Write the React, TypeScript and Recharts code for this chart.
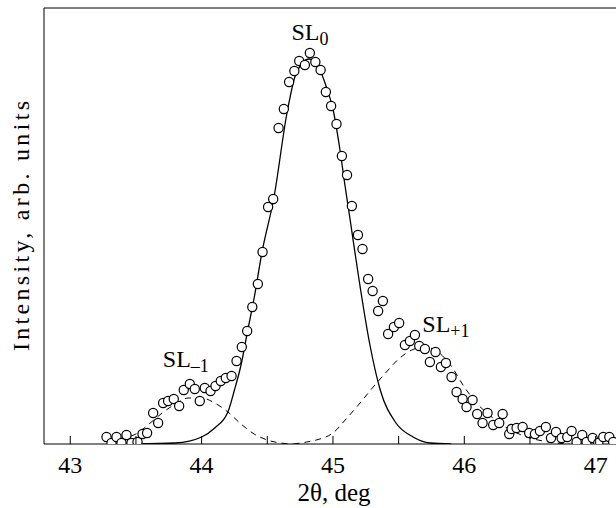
import React from 'react';
import {
  ComposedChart,
  Line,
  Scatter,
  XAxis,
  YAxis,
  ReferenceLine,
  ReferenceDot,
} from 'recharts';

// measured points (2θ in deg, intensity in arb. units)
const measTheta = [
  43.276, 43.314, 43.352, 43.39, 43.428, 43.466, 43.512, 43.55, 43.585, 43.631,
  43.669, 43.707, 43.745, 43.788, 43.829, 43.864, 43.91, 43.948, 43.986, 44.024,
  44.068, 44.106, 44.146, 44.184, 44.228, 44.266, 44.306, 44.347, 44.386, 44.428,
  44.464, 44.506, 44.545, 44.586, 44.626, 44.666, 44.706, 44.743, 44.786, 44.824,
  44.866, 44.906, 44.946, 44.986, 45.027, 45.068, 45.107, 45.144, 45.19, 45.225,
  45.268, 45.302, 45.344, 45.38, 45.42, 45.464, 45.504, 45.548, 45.586, 45.624,
  45.657, 45.7, 45.738, 45.781, 45.822, 45.86, 45.903, 45.941, 45.987, 46.017,
  46.063, 46.098, 46.139, 46.177, 46.22, 46.266, 46.292, 46.342, 46.36, 46.398,
  46.444, 46.494, 46.538, 46.576, 46.621, 46.66, 46.698, 46.741, 46.784, 46.817,
  46.855, 46.898, 46.931, 46.977, 47.02, 47.058, 47.104, 47.134,
];
const measInt = [
  7, 1, 7, 1, 9, 1, 2, 10, 11, 31,
  21, 41, 43, 45, 38, 54, 60, 55, 43, 56,
  53, 58, 63, 66, 68, 83, 97, 113, 137, 160,
  192, 237, 245, 316, 335, 362, 373, 383, 379, 391,
  382, 374, 352, 338, 320, 288, 269, 238, 209, 195,
  165, 153, 133, 143, 110, 117, 121, 99, 103, 109,
  98, 95, 82, 92, 77, 81, 67, 52, 45, 37,
  44, 30, 21, 31, 19, 21, 30, 10, 15, 16,
  17, 11, 10, 13, 17, 6, 12, 6, 7, 13,
  2, 9, 2, 6, 1, 7, 7, 2,
];

// SL0 fit (solid)
const mainTheta = [
  43.5, 43.8, 44.0, 44.1, 44.2, 44.25, 44.3, 44.35, 44.4, 44.46, 44.55, 44.65,
  44.71, 44.76, 44.82, 44.89, 44.95, 45.0, 45.05, 45.09, 45.13, 45.2, 45.28,
  45.36, 45.48, 45.61, 45.74, 45.9,
];
const mainInt = [
  0, 1, 7, 16, 32, 54, 79, 113, 146, 192, 246, 331,
  367, 380, 385, 377, 357, 335, 297, 260, 225, 163, 100,
  54, 21, 7, 1, 0,
];

// SL-1 satellite (dashed)
const lowTheta = [43.3, 43.5, 43.6, 43.7, 43.8, 43.9, 44.0, 44.1, 44.2, 44.3, 44.4, 44.5, 44.6, 44.7];
const lowInt = [3, 10, 20, 31, 40, 46, 46, 41, 32, 20, 10, 4, 1, 0];

// SL+1 satellite (dashed)
const highTheta = [
  44.7, 44.8, 44.9, 45.0, 45.1, 45.2, 45.3, 45.4, 45.5, 45.6, 45.7, 45.8,
  45.9, 46.0, 46.1, 46.2, 46.3, 46.4, 46.5, 46.6, 46.7, 46.8,
];
const highInt = [0, 2, 5, 11, 25, 40, 56, 71, 85, 94, 97, 92, 78, 57, 40, 28, 18, 11, 6, 3, 1, 0];

const xTicks = [43, 43.5, 44, 44.5, 45, 45.5, 46, 46.5, 47];

const zip = (xs: number[], ys: number[]) => xs.map((x, i) => ({ x, y: ys[i] }));

const FONT = '"Liberation Serif", "DejaVu Serif", serif';

const Tick = (props: any) => {
  const { x, y, payload } = props;
  const v = payload.value;
  return (
    <g>
      <line x1={x} x2={x} y1={y} y2={y - 8} stroke="#000" strokeWidth={1} />
      {Number.isInteger(v) && (
        <text x={x} y={y + 29} textAnchor="middle" fontFamily={FONT} fontSize={24} fill="#000">
          {v}
        </text>
      )}
    </g>
  );
};

const peakLabel = (sub: string) => (props: any) => {
  const { viewBox } = props;
  return (
    <text x={viewBox.x} y={viewBox.y} textAnchor="middle" fontFamily={FONT} fontSize={24} fill="#000">
      SL
      <tspan fontSize={18} dy={5}>
        {sub}
      </tspan>
    </text>
  );
};

export default function App() {
  return (
    <div style={{ position: 'absolute', left: 0, top: 0, background: '#fff' }}>
      <ComposedChart width={616} height={508} margin={{ top: 8, right: 0, bottom: 0, left: 0 }}>
        <XAxis
          type="number"
          dataKey="x"
          domain={[42.8, 47.155]}
          ticks={xTicks}
          tickSize={0}
          tickMargin={0}
          tick={<Tick />}
          height={64}
          stroke="#000"
          allowDataOverflow
          label={{
            content: () => (
              <text x={334} y={501} textAnchor="middle" fontFamily={FONT} fontSize={25} fill="#000">
                2θ, deg
              </text>
            ),
          }}
        />
        <YAxis
          type="number"
          dataKey="y"
          domain={[0, 436]}
          width={44}
          tick={false}
          tickLine={false}
          stroke="#000"
          allowDataOverflow
          label={{
            content: () => (
              <text
                x={29}
                y={226}
                transform="rotate(-90 29 226)"
                textAnchor="middle"
                fontFamily={FONT}
                fontSize={24}
                textLength={250}
                lengthAdjust="spacing"
                fill="#000"
              >
                Intensity, arb. units
              </text>
            ),
          }}
        />
        <ReferenceLine y={436} stroke="#000" strokeWidth={1} />
        <Line
          data={zip(lowTheta, lowInt)}
          dataKey="y"
          type="monotone"
          stroke="#000"
          strokeWidth={1}
          strokeDasharray="6 5"
          dot={false}
          isAnimationActive={false}
        />
        <Line
          data={zip(highTheta, highInt)}
          dataKey="y"
          type="monotone"
          stroke="#000"
          strokeWidth={1}
          strokeDasharray="6 5"
          dot={false}
          isAnimationActive={false}
        />
        <Line
          data={zip(mainTheta, mainInt)}
          dataKey="y"
          type="monotone"
          stroke="#000"
          strokeWidth={1.3}
          dot={false}
          isAnimationActive={false}
        />
        <Scatter
          data={zip(measTheta, measInt)}
          dataKey="y"
          shape={(p: any) => (
            <circle cx={p.cx} cy={p.cy} r={4.6} fill="#fff" stroke="#000" strokeWidth={1.2} />
          )}
          isAnimationActive={false}
        />
        <ReferenceDot x={44.825} y={404} r={0} label={{ content: peakLabel('0') }} />
        <ReferenceDot x={43.88} y={77} r={0} label={{ content: peakLabel('–1') }} />
        <ReferenceDot x={45.86} y={112} r={0} label={{ content: peakLabel('+1') }} />
      </ComposedChart>
    </div>
  );
}
